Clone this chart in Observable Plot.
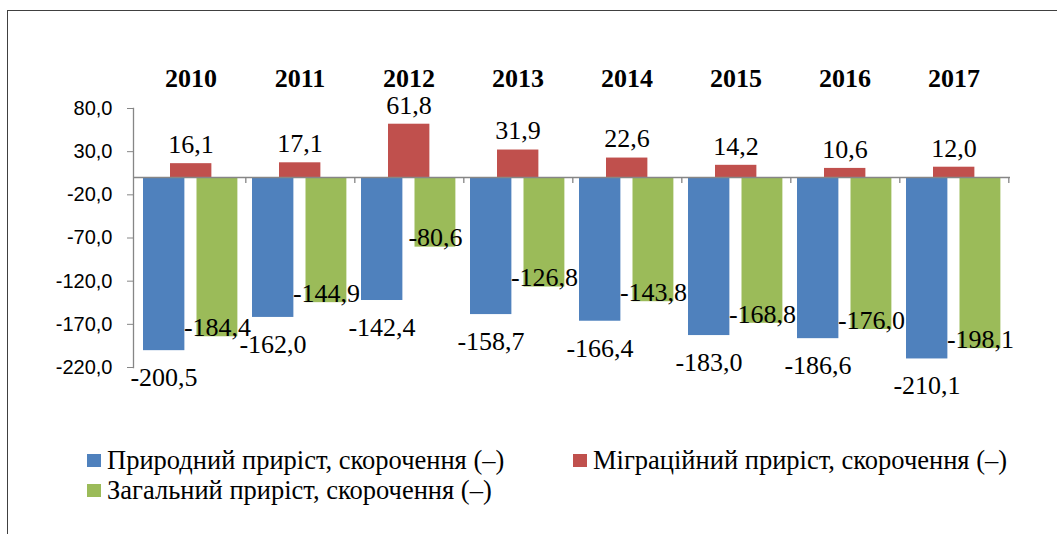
<!DOCTYPE html>
<html>
<head>
<meta charset="utf-8">
<script src="https://cdn.jsdelivr.net/npm/d3@7"></script>
<script src="https://cdn.jsdelivr.net/npm/@observablehq/plot@0.6"></script>
<style>
  html, body { margin: 0; padding: 0; background: #fff; overflow: hidden; }
  #frame { position: absolute; left: 7px; top: 10px; width: 1200px; height: 700px;
           border: 1.5px solid #404040; box-sizing: border-box; pointer-events: none; }
  #chart { position: relative; }
  #chart svg { display: block; background: transparent; }
  #legend { position: relative; height: 114px; font-family: "Liberation Serif", "Times New Roman", serif;
            font-size: 26.5px; color: #000; }
  .item { position: absolute; display: flex; align-items: center; white-space: nowrap; line-height: 30px; }
  .sw { width: 14px; height: 13px; margin-right: 6px; }
</style>
</head>
<body>
<div id="frame"></div>
<div id="chart"></div>
<div id="legend"></div>
<script>
// ---- data ----
const years = ["2010", "2011", "2012", "2013", "2014", "2015", "2016", "2017"];
const natural = [-200.5, -162.0, -142.4, -158.7, -166.4, -183.0, -186.6, -210.1];
const migration = [16.1, 17.1, 61.8, 31.9, 22.6, 14.2, 10.6, 12.0];
const total = [-184.4, -144.9, -80.6, -126.8, -143.8, -168.8, -176.0, -198.1];
const seriesNames = [
  "Природний приріст, скорочення (–)",
  "Міграційний приріст, скорочення (–)",
  "Загальний приріст, скорочення (–)"
];
const seriesColors = ["#4F81BD", "#C0504D", "#9BBB59"];
const yTicks = [80, 30, -20, -70, -120, -170, -220];

// ---- helpers ----
const rows = vals => years.map((year, i) => ({year, value: vals[i]}));
const fmt = v => v.toFixed(1).replace(".", ",");
const serif = "Liberation Serif, Times New Roman, serif";
const axisGray = "#868686";

const W = 1057, H = 420;
const mL = 133, mR = 47;
const band = (W - mL - mR) / years.length;

const chart = Plot.plot({
  width: W,
  height: H,
  marginLeft: mL,
  marginRight: mR,
  marginTop: 108,
  marginBottom: 53,
  style: {background: "transparent", color: "#000"},
  x: {domain: years, padding: 0, axis: null},
  y: {domain: [-220, 80], axis: null},
  marks: [
    Plot.frame({anchor: "left", stroke: axisGray, strokeWidth: 1.3}),
    Plot.axisY({
      ticks: yTicks, tickFormat: fmt, tickSize: 6, tickPadding: 15, label: null,
      stroke: axisGray, fontSize: 20, fontFamily: "Liberation Sans, Arial, sans-serif"
    }),
    Plot.barY(rows(natural), {x: "year", y: "value", fill: seriesColors[0],
      insetLeft: 7, insetRight: band - 49}),
    Plot.barY(rows(migration), {x: "year", y: "value", fill: seriesColors[1],
      insetLeft: 34, insetRight: band - 76}),
    Plot.barY(rows(total), {x: "year", y: "value", fill: seriesColors[2],
      insetLeft: 60.5, insetRight: band - 102}),
    Plot.ruleY([0], {stroke: axisGray, strokeWidth: 1.5}),
    Plot.ruleX(years, {x: d => d, y1: 0, y2: 0, insetBottom: -6, dx: band / 2,
      stroke: axisGray, strokeWidth: 1.3}),
    Plot.text(rows(natural), {x: "year", y: "value", text: d => fmt(d.value),
      dx: -27, dy: 27, fontSize: 26, fontFamily: serif}),
    Plot.text(rows(migration), {x: "year", y: "value", text: d => fmt(d.value),
      dx: 0, dy: -19, fontSize: 26, fontFamily: serif}),
    Plot.text(rows(total), {x: "year", y: "value", text: d => fmt(d.value),
      dx: 26.5, dy: -9, fontSize: 26, fontFamily: serif}),
    Plot.text(years, {x: d => d, frameAnchor: "top", lineAnchor: "middle", dy: -30, text: d => d,
      fontWeight: "bold", fontSize: 26, fontFamily: serif})
  ]
});
document.getElementById("chart").appendChild(chart);

// ---- legend ----
const legendPos = [[87, 25], [573, 25], [87, 55]];
const legend = document.getElementById("legend");
seriesNames.forEach((name, i) => {
  const item = document.createElement("div");
  item.className = "item";
  item.style.left = legendPos[i][0] + "px";
  item.style.top = legendPos[i][1] + "px";
  const sw = document.createElement("span");
  sw.className = "sw";
  sw.style.background = seriesColors[i];
  const label = document.createElement("span");
  label.textContent = name;
  item.appendChild(sw);
  item.appendChild(label);
  legend.appendChild(item);
});
</script>
</body>
</html>
